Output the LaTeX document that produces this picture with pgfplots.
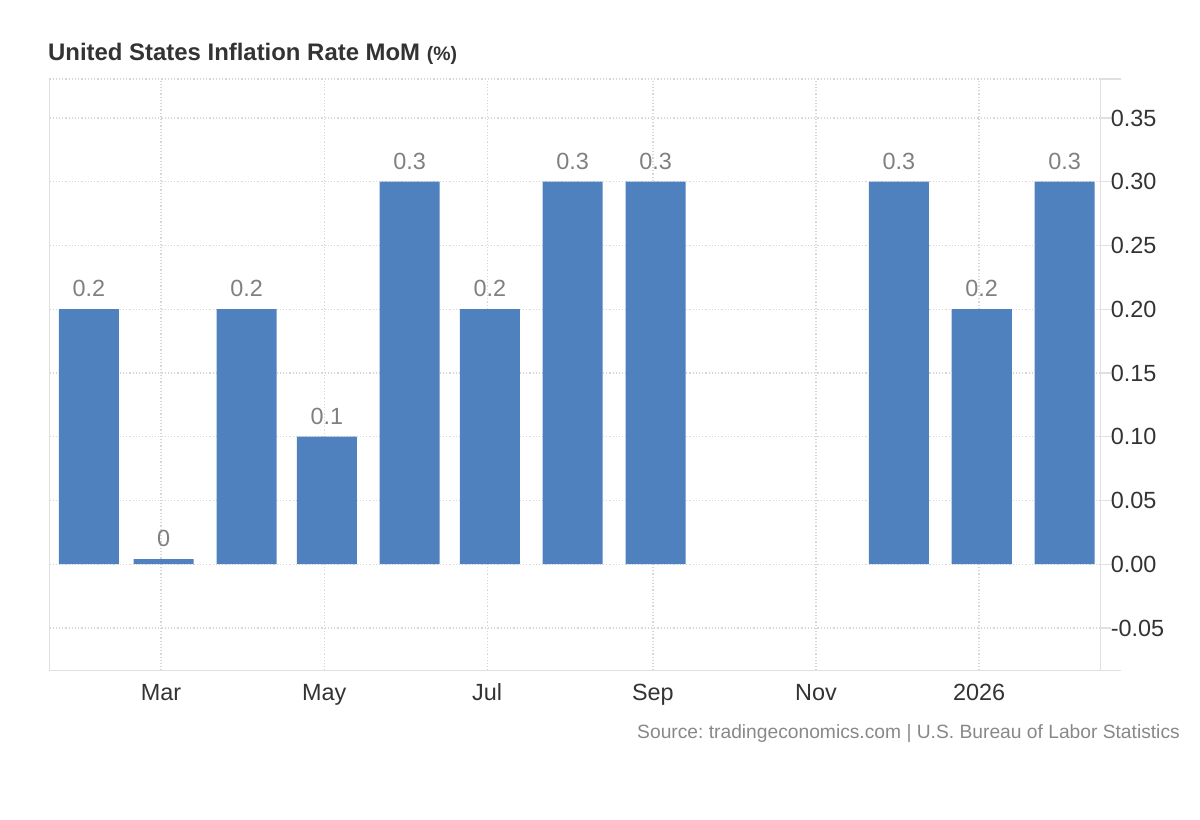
\documentclass[border=0pt]{standalone}
\usepackage{fontspec}
\setmainfont{Liberation Sans}
\usepackage{pgfplots}
\pgfplotsset{compat=1.18}
\frenchspacing
\definecolor{barblue}{RGB}{78,129,189}
\definecolor{gridc}{RGB}{214,214,214}
\definecolor{axc}{RGB}{224,224,224}
\definecolor{tickc}{RGB}{51,51,51}
\definecolor{lblc}{RGB}{128,128,128}
\definecolor{srcc}{RGB}{136,136,136}
\pgfplotstableread{
x y label
32 0.2 0.2
60 0.004 0
91 0.2 0.2
121 0.1 0.1
152 0.3 0.3
182 0.2 0.2
213 0.3 0.3
244 0.3 0.3
335 0.3 0.3
366 0.2 0.2
397 0.3 0.3
}\cpidata
\begin{document}
\begin{tikzpicture}[x=1bp,y=1bp]
\path[use as bounding box] (0,0) rectangle (1200,820);
\begin{axis}[
  at={(49.3bp,149.3bp)}, anchor=south west, scale only axis,
  width=1051.4bp, height=591.7bp,
  xmin=17.2, xmax=410.5, ymin=-0.0835, ymax=0.3806,
  clip=false,
  axis line style={draw=none},
  xtick={59,120,181,243,304,365},
  xticklabels={Mar,May,Jul,Sep,Nov,2026},
  ytick={-0.05,0,0.05,0.1,0.15,0.2,0.25,0.3,0.35},
  yticklabels={-0.05,0.00,0.05,0.10,0.15,0.20,0.25,0.30,0.35},
  ytick pos=right, xtick pos=bottom,
  yticklabel pos=right,
  tick align=outside,
  major tick length=10bp,
  xtick style={draw=none},
  ytick style={draw=axc, line width=1.2bp},
  xticklabel style={font=\fontsize{23.5}{27}\selectfont, text=tickc, inner sep=0pt, anchor=base, yshift=-19.5bp},
  yticklabel style={font=\fontsize{23.5}{27}\selectfont, text=tickc, inner sep=0pt, anchor=west},
  grid=major,
  major grid style={draw=gridc, line width=1.2bp, dash pattern=on 1.2bp off 2bp},
]
\addplot[ybar, bar width=22.45, fill=barblue, draw=none,
  nodes near coords, point meta=explicit symbolic,
  nodes near coords style={font=\fontsize{23.5}{27}\selectfont, text=lblc, inner sep=0pt, anchor=south, yshift=12bp}]
  table[x=x, y=y, meta=label] {\cpidata};
\draw[gridc, line width=1.2bp, dash pattern=on 1.2bp off 2bp] (rel axis cs:0,1) -- (rel axis cs:1,1);
\draw[axc, line width=1.5bp] (rel axis cs:0,1) -- (rel axis cs:0,0) -- (rel axis cs:1,0) -- ([xshift=20bp]rel axis cs:1,0);
\draw[axc, line width=1.5bp] (rel axis cs:1,0) -- (rel axis cs:1,1) -- ([xshift=20bp]rel axis cs:1,1);
\end{axis}
\node[anchor=base west, inner sep=0pt, text=tickc, font=\bfseries\fontsize{24}{28}\selectfont] at (48,759) {United States Inflation Rate MoM {\fontsize{19.5}{22}\selectfont (\%)}};
\node[anchor=base east, inner sep=0pt, text=srcc, font=\fontsize{19.3}{23}\selectfont] at (1180,81) {Source: tradingeconomics.com | U.S. Bureau of Labor Statistics};
\end{tikzpicture}
\end{document}
